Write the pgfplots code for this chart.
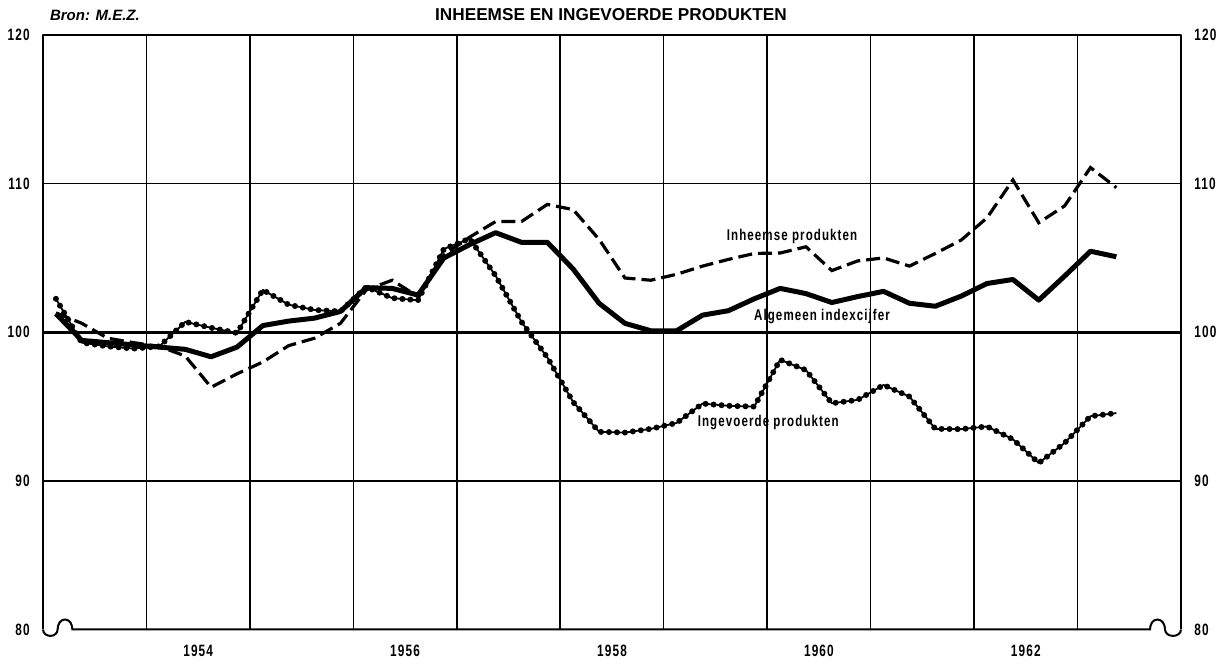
\documentclass[border=0pt]{standalone}
\usepackage{pgfplots}
\pgfplotsset{compat=1.18}
\usepackage{pgfplotstable}
\usepackage{fontspec}
\setmainfont{Liberation Sans}
\newfontfamily\condfont[FakeStretch=0.72,LetterSpace=7]{Liberation Sans}
\newfontfamily\annfam[FakeStretch=0.74,LetterSpace=7]{Liberation Sans}
\newcommand\tickfont{\condfont\bfseries\fontsize{8.2}{9}\selectfont}
\newcommand\annfont{\annfam\bfseries\fontsize{7.8}{9}\selectfont}

\pgfplotstableread{
t        alg     inh     ing
1953.125 101.25  101.3   102.25
1953.375 99.45   100.6   99.3
1953.625 99.3    99.6    99.05
1953.875 99.15   99.3    98.9
1954.125 99.0    99.05   99.05
1954.375 98.85   98.4    100.7
1954.625 98.35   96.3    100.3
1954.875 99.0    97.2    99.95
1955.125 100.45  98.0    102.85
1955.375 100.75  99.1    101.85
1955.625 100.95  99.6    101.5
1955.875 101.4   100.6   101.4
1956.125 103.0   102.85  103.05
1956.375 102.95  103.5   102.3
1956.625 102.5   102.4   102.15
1956.875 105.0   105.2   105.6
1957.125 105.9   106.4   106.3
1957.375 106.7   107.45  103.8
1957.625 106.05  107.45  100.7
1957.875 106.05  108.6   98.3
1958.125 104.25  108.25  95.3
1958.375 101.95  106.25  93.3
1958.625 100.6   103.65  93.25
1958.875 100.1   103.5   93.5
1959.125 100.1   103.9   93.9
1959.375 101.15  104.45  95.2
1959.625 101.45  104.9   95.05
1959.875 102.25  105.3   95.0
1960.125 102.95  105.33  98.15
1960.375 102.6   105.75  97.45
1960.625 102.0   104.15  95.22
1960.875 102.4   104.8   95.45
1961.125 102.75  105.0   96.45
1961.375 101.95  104.45  95.67
1961.625 101.75  105.3   93.5
1961.875 102.43  106.2   93.48
1962.125 103.28  107.7   93.66
1962.375 103.55  110.25  92.8
1962.625 102.16  107.37  91.2
1962.875 103.78  108.5   92.55
1963.125 105.45  111.08  94.35
1963.375 105.08  109.73  94.56
}\data

\begin{document}
\begin{tikzpicture}
\useasboundingbox (-21.5pt,-16.75pt) rectangle (590.5pt,314.75pt);
\begin{axis}[
  at={(0pt,0pt)}, anchor=south west, scale only axis,
  width=569pt, height=297.25pt,
  xmin=1953, xmax=1964, ymin=80, ymax=120,
  axis line style={draw=none},
  xtick={1954,...,1963}, xticklabels={},
  extra x ticks={1954.5,1956.5,1958.5,1960.5,1962.5},
  extra x tick labels={1954,1956,1958,1960,1962},
  extra x tick style={grid=none},
  ytick={90,100,110,120},
  extra y ticks={80},
  extra y tick style={grid=none},
  major tick length=0pt,
  xmajorgrids, ymajorgrids,
  grid style={black, line width=0.75pt},
  tick label style={font=\tickfont, inner sep=0pt},
  yticklabel style={xshift=-6.5pt},
  xticklabel style={yshift=-7.5pt},
  /pgf/number format/assume math mode=true,
  no markers, clip=false,
]
\draw[line width=1.4pt] (axis cs:1953,100) -- (axis cs:1964,100);
\addplot[black, line width=1.6pt, dash pattern=on 7pt off 3pt] table[x=t,y=inh] {\data};
\addplot[black, line width=2.5pt, line join=round] table[x=t,y=alg] {\data};
\addplot[black, line width=0.9pt, line join=round] table[x=t,y=ing] {\data};
\addplot[black, line width=3pt, line cap=round, dash pattern=on 0pt off 4pt] table[x=t,y=ing] {\data};
\node[font=\annfont, inner sep=0pt, anchor=base] at (axis cs:1960.24,106.16) {Inheemse produkten};
\node[font=\annfont, inner sep=0pt, anchor=base] at (axis cs:1960.53,100.77) {Algemeen indexcijfer};
\node[font=\annfont, inner sep=0pt, anchor=base] at (axis cs:1960.01,93.69) {Ingevoerde produkten};
\end{axis}
\begin{axis}[
  at={(0pt,0pt)}, anchor=south west, scale only axis,
  width=569pt, height=297.25pt,
  xmin=1953, xmax=1964, ymin=80, ymax=120,
  hide x axis, axis y line*=right, axis line style={draw=none},
  ytick={80,90,100,110,120},
  major tick length=0pt,
  tick label style={font=\tickfont, inner sep=0pt},
  yticklabel style={xshift=6.5pt},
  /pgf/number format/assume math mode=true,
]
\end{axis}
% frame
\draw[line width=1pt, line join=round] (0pt,0pt) -- (0pt,297.25pt) -- (569pt,297.25pt) -- (569pt,0pt);
\draw[line width=1pt] (0pt,0pt) to[out=-90,in=180] (3.7pt,-3.2pt) to[out=0,in=-90] (7.3pt,0pt)
  to[out=90,in=180] (11pt,5pt) to[out=0,in=90] (14.7pt,0pt) -- (553.5pt,0pt)
  to[out=90,in=180] (557.2pt,5pt) to[out=0,in=90] (561pt,0pt)
  to[out=-90,in=180] (565pt,-3.2pt) to[out=0,in=-90] (569pt,0pt);
\node[anchor=base west, font=\bfseries\itshape\fontsize{7.5}{9}\selectfont] at (0pt,304.25pt) {Bron: M.E.Z.};
\node[anchor=base, font=\bfseries\fontsize{8.6}{10}\selectfont] at (284pt,304.25pt) {INHEEMSE EN INGEVOERDE PRODUKTEN};
\end{tikzpicture}
\end{document}
